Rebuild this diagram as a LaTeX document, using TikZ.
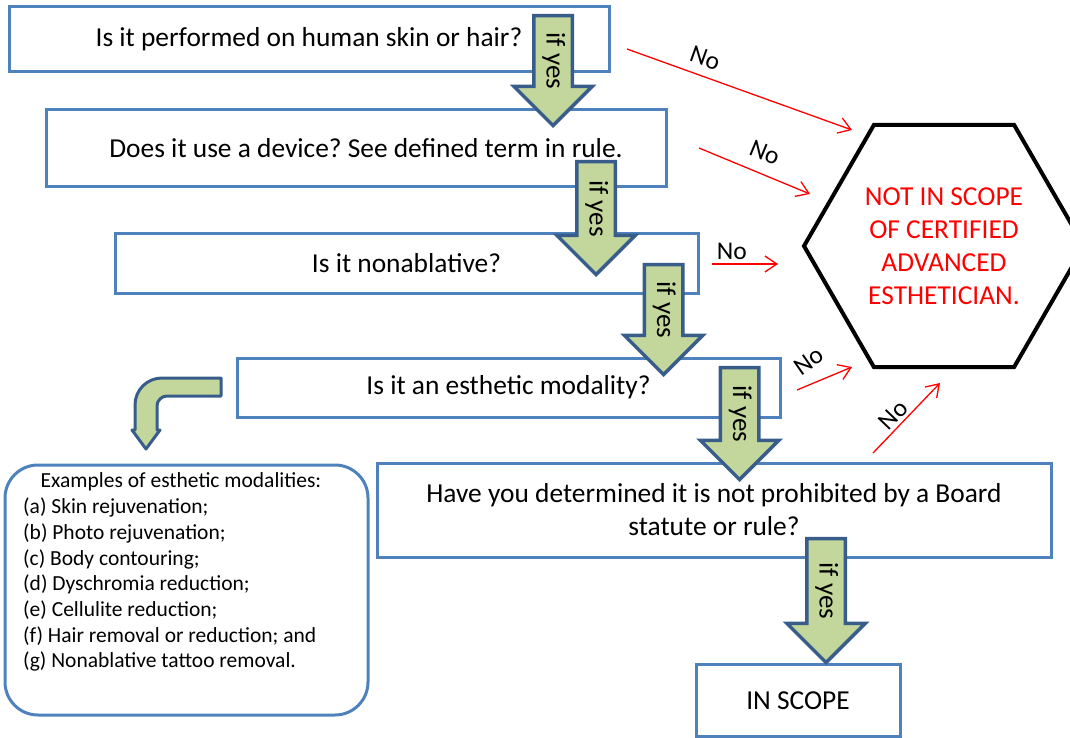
\documentclass[tikz,border=0pt]{standalone}
\usepackage{fontspec}
\setmainfont{Carlito}
\usepackage{tikz}
\usetikzlibrary{shapes.geometric, shapes.arrows, arrows.meta, positioning}
\frenchspacing

\definecolor{boxblue}{RGB}{79,129,189}
\definecolor{arrowblue}{RGB}{56,93,138}
\definecolor{arrowgreen}{RGB}{195,214,155}

\tikzset{
    question/.style={draw=boxblue, line width=3pt, fill=white, inner sep=0pt, align=center, font=\fontsize{27.4}{33}\selectfont},
    yesarrow/.style={single arrow, draw=arrowblue, fill=arrowgreen, line width=3.5pt, rotate=-90, anchor=tip,
        font=\fontsize{27}{32}\selectfont, text height=19pt, text depth=6pt, inner ysep=5pt, inner xsep=4pt,
        single arrow head extend=20pt, single arrow tip angle=90},
    noline/.style={red, line width=1.3pt, -{Straight Barb[length=12pt, width=16pt]}},
    nolabel/.style={text=black, font=\fontsize{25.5}{30}\selectfont, inner sep=1pt},
    listitem/.style={anchor=base west, inner sep=0pt, font=\fontsize{21.5}{25.8}\selectfont},
}

\begin{document}
\begin{tikzpicture}[x=1pt, y=-1pt]
    \useasboundingbox (0,0) rectangle (1070,738);
    \clip (0,0) rectangle (1070,738);

    % question boxes
    \node[question, minimum width=600pt, minimum height=65pt] (skin) at (309,39.5) {Is it performed on human skin or hair?};
    \node[question, minimum width=620pt, minimum height=77pt] (device) at (356,148.5) {\hspace*{20pt}Does it use a device? See defined term in rule.};
    \node[question, minimum width=583pt, minimum height=60pt] (nonablative) at (406.5,263) {Is it nonablative?};
    \node[question, minimum width=543pt, minimum height=59pt] (modality) at (508.5,387.5) {Is it an esthetic modality?};
    \node[question, minimum width=674pt, minimum height=94pt] (prohibited) at (714,510) {Have you determined it is not prohibited by a Board\\statute or rule?};
    \node[question, minimum width=204pt, minimum height=72pt] (inscope) at (798,700.5) {IN SCOPE};

    % examples box
    \node[draw=boxblue, line width=3pt, rounded corners=33pt, minimum width=363pt, minimum height=250pt] (examples) at (186.5,590) {};
    \node[anchor=base, inner sep=0pt, font=\fontsize{21.5}{25.8}\selectfont] (extitle) at (181,487) {Examples of esthetic modalities:};
    \node[listitem] (exa) at (23,513) {(a) Skin rejuvenation;};
    \node[listitem] (exb) at (23,539) {(b) Photo rejuvenation;};
    \node[listitem] (exc) at (23,565) {(c) Body contouring;};
    \node[listitem] (exd) at (23,590) {(d) Dyschromia reduction;};
    \node[listitem] (exe) at (23,616) {(e) Cellulite reduction;};
    \node[listitem] (exf) at (23,642) {(f) Hair removal or reduction; and};
    \node[listitem] (exg) at (23,667) {(g) Nonablative tattoo removal.};

    % out of scope
    \node[regular polygon, regular polygon sides=6, minimum size=280pt, draw, line width=4pt, inner sep=0pt,
        text=red, align=center, font=\fontsize{27.4}{33}\selectfont] (notscope) at (944,246)
        {NOT IN SCOPE\\OF CERTIFIED\\ADVANCED\\ESTHETICIAN.};

    % No arrows
    \coordinate (no1s) at (627,49);  \coordinate (no1e) at (852,130);
    \coordinate (no2s) at (699,148); \coordinate (no2e) at (810,194);
    \coordinate (no3s) at (712,264); \coordinate (no3e) at (778,264);
    \coordinate (no4s) at (797,390); \coordinate (no4e) at (852,367);
    \coordinate (no5s) at (873,453); \coordinate (no5e) at (940,383);
    \draw[noline] (no1s) -- node[nolabel, sloped, above=8pt, pos=0.32] (lblno1) {No} (no1e);
    \draw[noline] (no2s) -- node[nolabel, sloped, above=11pt, pos=0.52] (lblno2) {No} (no2e);
    \draw[noline] (no3s) -- node[nolabel, above=3pt, pos=0.3] (lblno3) {No} (no3e);
    \draw[noline] (no4s) -- (no4e);
    \node[nolabel, rotate=35] (lblno4) at (809,361) {No};
    \draw[noline] (no5s) -- node[nolabel, sloped, above=2pt, pos=0.43] (lblno5) {No} (no5e);

    % if yes arrows
    \node[yesarrow, minimum height=110pt] (yes1) at (553,128) {if yes};
    \node[yesarrow, minimum height=113pt] (yes2) at (596,277) {if yes};
    \node[yesarrow, minimum height=110pt] (yes3) at (663.5,377) {if yes};
    \node[yesarrow, minimum height=112pt] (yes4) at (739.5,482) {if yes};
    \node[yesarrow, minimum height=124pt] (yes5) at (826,665) {if yes};

    % bent arrow to examples
    \draw[arrowblue, fill=arrowgreen, line width=3pt, line join=round]
        (221,378) -- (162,378) .. controls (147,378) and (135,390) .. (135,405) -- (135,430) -- (132,430)
        -- (146,449) -- (160,430) -- (157,430) -- (157,406) .. controls (157,400.5) and (161.5,396) .. (167,396)
        -- (221,396) -- cycle;
\end{tikzpicture}
\end{document}
